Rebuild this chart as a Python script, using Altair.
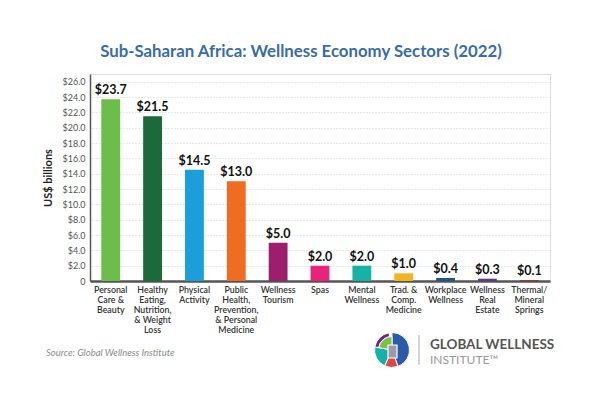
import altair as alt
import pandas as pd
import math

sectors = [
    "Personal|Care &|Beauty",
    "Healthy|Eating,|Nutrition,|& Weight|Loss",
    "Physical|Activity",
    "Public|Health,|Prevention,|& Personal|Medicine",
    "Wellness|Tourism",
    "Spas",
    "Mental|Wellness",
    "Trad. &|Comp.|Medicine",
    "Workplace|Wellness",
    "Wellness|Real|Estate",
    "Thermal/|Mineral|Springs",
]
values = [23.7, 21.5, 14.5, 13.0, 5.0, 2.0, 2.0, 1.0, 0.4, 0.3, 0.1]
colors = ["#6cbd4a", "#1b6b3a", "#1b9ed9", "#ef6d22", "#9c1f6e", "#e8237b",
          "#15b3a4", "#f0b322", "#1f5886", "#5a3b8b", "#a3222e"]
y_ticks = [0, 2, 4, 6, 8, 10, 12, 14, 16, 18, 20, 22, 24, 26]

df = pd.DataFrame({"sector": sectors, "value": values, "color": colors})
df["label"] = df["value"].map(lambda v: f"${v:.1f}")

FONT = "Lato"
W, H = 460, 207

x_enc = alt.X("sector:N", sort=sectors,
              scale=alt.Scale(paddingInner=0.55, paddingOuter=0.27),
              axis=alt.Axis(title=None, labelAngle=0, labelExpr="split(datum.label, '|')",
                            labelFont=FONT, labelFontSize=8.8, labelFontWeight=600,
                            labelColor="#333", labelLineHeight=10, labelPadding=4,
                            ticks=False, domainColor="#555", domainWidth=2.5,
                            labelBaseline="top"))
y_enc = alt.Y("value:Q", scale=alt.Scale(domain=[0, 27], nice=False),
              axis=alt.Axis(title="US$ billions", values=y_ticks,
                            labelExpr="datum.value == 0 ? '0' : '$' + format(datum.value, '.1f')",
                            labelFont=FONT, labelFontSize=9, labelColor="#555",
                            labelOverlap=False,
                            ticks=False, labelPadding=5, domainColor="#555", domainWidth=1.5,
                            gridColor="#d0d0d0", gridDash=[1, 2], gridWidth=1,
                            titleFont=FONT, titleFontSize=11, titleFontWeight="bold",
                            titleColor="#222", titlePadding=8))

bars = alt.Chart(df).mark_bar().encode(
    x=x_enc, y=y_enc, color=alt.Color("color:N", scale=None)
)
labels = alt.Chart(df).mark_text(dy=-9, font=FONT, fontSize=12.5, fontWeight="bold",
                                 color="#111").encode(
    x=x_enc, y=y_enc, text="label:N"
)

title = alt.Chart(pd.DataFrame({"t": ["Sub-Saharan Africa: Wellness Economy Sectors (2022)"]})).mark_text(
    font=FONT, fontSize=16.8, fontWeight="bold", color="#3a6ca6", align="center", baseline="middle"
).encode(x=alt.value(211), y=alt.value(-22), text="t:N")

source = alt.Chart(pd.DataFrame({"t": ["Source: Global Wellness Institute"]})).mark_text(
    font=FONT, fontSize=9.5, fontStyle="italic", color="#8a8a8a", align="left", baseline="middle"
).encode(x=alt.value(-44), y=alt.value(279), text="t:N")

# logo arcs (pixel positions relative to the plot area)
d = math.pi / 180
logo_parts = pd.DataFrame({
    "t0": [0 * d, 160 * d, 205 * d, 280 * d, 280 * d],
    "t1": [160 * d, 205 * d, 280 * d, 350 * d, 360 * d],
    "r": [17.5, 17.5, 17.5, 17.5, 13.5],
    "r2": [0, 0, 0, 13.5, 0],
    "c": ["#2a5aa8", "#d9474a", "#15b0a6", "#6b2b87", "#7ac143"],
})
logo = alt.Chart(logo_parts).mark_arc(stroke="white", strokeWidth=1).encode(
    x=alt.value(302), y=alt.value(276),
    theta=alt.Theta("t0:Q", scale=None), theta2="t1:Q",
    radius=alt.Radius("r:Q", scale=None), radius2="r2:Q",
    color=alt.Color("c:N", scale=None),
)
logo_square = alt.Chart(pd.DataFrame({"a": [1]})).mark_rect(color="#9a9aa8", stroke="white", strokeWidth=1.2).encode(
    x=alt.value(298), x2=alt.value(307), y=alt.value(271), y2=alt.value(284)
)
sep = alt.Chart(pd.DataFrame({"a": [1]})).mark_rule(color="#aaaaaa", strokeWidth=1).encode(
    x=alt.value(329), y=alt.value(261), y2=alt.value(291)
)
gw = alt.Chart(pd.DataFrame({"t": ["GLOBAL WELLNESS"]})).mark_text(
    font=FONT, fontSize=13.5, fontWeight="bold", color="#555", align="left", baseline="middle"
).encode(x=alt.value(340), y=alt.value(271), text="t:N")
inst = alt.Chart(pd.DataFrame({"t": ["INSTITUTE\u2122"]})).mark_text(
    font=FONT, fontSize=12, color="#999", align="left", baseline="middle"
).encode(x=alt.value(340), y=alt.value(286), text="t:N")

chart = alt.layer(bars, labels, title, source, logo, logo_square, sep, gw, inst).properties(
    width=W, height=H,
    autosize=alt.AutoSizeParams(type="none"),
    padding={"left": 90, "top": 74, "right": 50, "bottom": 126},
).configure_view(stroke=None).configure(background="white")

chart.save("out.html", embed_options={"renderer": "svg", "actions": False})
